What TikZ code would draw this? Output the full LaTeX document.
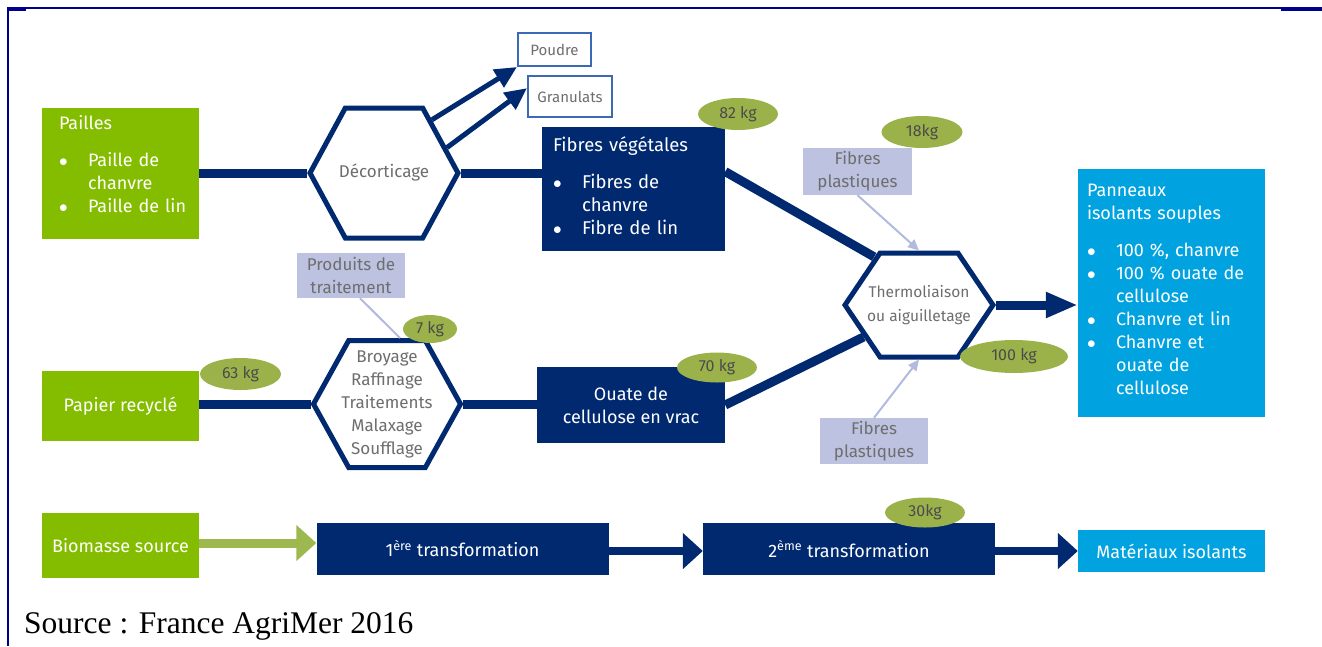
\documentclass[tikz,border=0pt]{standalone}
\usepackage{fontspec}
\setmainfont{Fira Sans}
\newfontfamily\srcfont{Liberation Serif}
\usepackage{xcolor}
\definecolor{Navy}{RGB}{0,41,112}
\definecolor{Leaf}{RGB}{132,189,0}
\definecolor{Olive}{RGB}{155,178,75}
\definecolor{OliveArrow}{RGB}{157,184,78}
\definecolor{Sky}{RGB}{0,163,224}
\definecolor{Lavender}{RGB}{188,194,224}
\definecolor{LavLine}{RGB}{178,186,222}
\definecolor{HexGray}{RGB}{110,110,110}
\definecolor{KgGray}{RGB}{75,75,75}
\definecolor{FrameBlue}{RGB}{0,0,140}
\definecolor{OutBlue}{RGB}{60,105,180}
\usetikzlibrary{positioning,arrows.meta,shapes.geometric,shapes.symbols,calc,backgrounds}
\newcommand{\hx}[1]{\makebox[0pt]{\begin{tabular}{@{}c@{}}#1\end{tabular}}}
\newcommand{\puces}[1]{\begin{tabular}[t]{@{}p{29pt}@{}l@{}}#1\end{tabular}}
\newcommand{\pt}{$\bullet$}

\begin{document}
\begin{tikzpicture}[x=1pt, y=-1pt,
    big/.style={font=\fontsize{18}{23}\selectfont},
    grn/.style={rectangle, fill=Leaf, text=white, inner sep=0pt, big},
    nv/.style={rectangle, fill=Navy, text=white, inner sep=0pt, big},
    sky/.style={rectangle, fill=Sky, text=white, inner sep=0pt, big},
    hex/.style={signal, signal to=east and west, draw=Navy, line width=5pt, fill=white,
                text=HexGray, inner sep=0pt, font=\fontsize{17}{23}\selectfont},
    kg/.style={ellipse, fill=Olive, text=KgGray, inner sep=0pt, font=\fontsize{16}{18}\selectfont},
    lav/.style={rectangle, fill=Lavender, text=HexGray, inner sep=0pt, align=center,
                font=\fontsize{17}{23}\selectfont},
    sortie/.style={rectangle, draw=OutBlue, line width=2pt, fill=white, text=HexGray,
                inner sep=0pt, font=\fontsize{15}{18}\selectfont},
    flow/.style={draw=Navy, line width=9pt},
    a/.style={-{Triangle[length=22pt,width=20pt]}, draw=Navy, line width=5pt},
    la/.style={-{Triangle[length=11pt,width=10pt]}, draw=LavLine, line width=2pt},
    ba/.style={-{Triangle[length=20pt,width=35pt]}, line width=9pt}
]
\useasboundingbox (0,0) rectangle (1322,646);
% cadre
\draw[FrameBlue, line width=1.5pt] (8,646) -- (8,8) -- (1322,8);
\draw[FrameBlue, line width=3pt] (8,9) -- (26,9) (1281,9) -- (1322,9);

% filiere chanvre / lin
\node[grn, minimum width=157pt, minimum height=131pt, text width=123pt, align=left] (pai) at (120.5,173.5)
    {Pailles\\[14pt]\puces{\pt & Paille de\\ & chanvre\\ \pt & Paille de lin\rule[-19pt]{0pt}{1pt}}};
\node[hex, minimum width=148pt, minimum height=130pt, signal pointer angle=123] (dec) at (384,173) {\hx{Décorticage}};
\node[nv, minimum width=183pt, minimum height=124pt, text width=161pt, align=left,
      font=\fontsize{18.5}{23}\selectfont] (fib) at (633.5,189)
    {Fibres végétales\\[14pt]\puces{\pt & Fibres de\\ & chanvre\\ \pt & Fibre de lin}};
\node[sortie, minimum width=73pt, minimum height=33pt] (pou) at (554.5,49.5) {Poudre};
\node[sortie, minimum width=84pt, minimum height=41pt] (gra) at (570,96.5) {Granulats};

% filiere ouate
\node[grn, minimum width=157pt, minimum height=70pt] (pap) at (120.5,406) {Papier recyclé};
\node[hex, minimum width=147pt, minimum height=127pt, signal pointer angle=122] (bro) at (387,404)
    {\hx{Broyage\\Raffinage\\Traitements\\Malaxage\\Soufflage}};
\node[nv, minimum width=188pt, minimum height=76pt, align=center] (oua) at (631,405) {Ouate de\\cellulose en vrac};
\node[lav, minimum width=108pt, minimum height=45pt] (prd) at (351,275.5) {Produits de\\traitement};

% panneaux
\node[hex, minimum width=148pt, minimum height=104pt, signal pointer angle=112,
      font=\fontsize{15.5}{24}\selectfont] (th) at (919,305) {\hx{Thermoliaison\\ou aiguilletage}};
\node[lav, minimum width=109pt, minimum height=47pt] (fpa) at (857.5,171.5) {Fibres\\plastiques};
\node[lav, minimum width=108pt, minimum height=46pt] (fpb) at (874,441) {Fibres\\plastiques};
\node[sky, minimum width=187pt, minimum height=248pt, text width=169pt, align=left] (pan) at (1171.5,293)
    {Panneaux\\isolants souples\\[14pt]\puces{\pt & 100 \%, chanvre\\ \pt & 100 \% ouate de\\ & cellulose\\
     \pt & Chanvre et lin\\ \pt & Chanvre et\\ & ouate de\\ & cellulose}};

% legende du bas
\node[grn, minimum width=157pt, minimum height=65pt] (bio) at (120.5,545.5) {Biomasse source};
\node[nv, minimum width=292pt, minimum height=52pt] (tr1) at (462.5,548.5) {1\textsuperscript{ère} transformation};
\node[nv, minimum width=292pt, minimum height=52pt] (tr2) at (849,549) {2\textsuperscript{ème} transformation};
\node[sky, minimum width=187pt, minimum height=42pt] (mat) at (1171.5,551) {Matériaux isolants};

% masses
\node[kg, minimum width=80pt, minimum height=32pt] (k82) at (738,114) {82 kg};
\node[kg, minimum width=81pt, minimum height=32pt] (k18) at (922,132) {18kg};
\node[kg, minimum width=108pt, minimum height=33pt] (k100) at (1014,356.5) {100 kg};
\node[kg, minimum width=80pt, minimum height=30pt] (k70) at (717,367.5) {70 kg};
\node[kg, minimum width=54pt, minimum height=28pt] (k7) at (430,329) {7 kg};
\node[kg, minimum width=81pt, minimum height=32pt] (k63) at (240.5,374) {63 kg};
\node[kg, minimum width=80pt, minimum height=30pt] (k30) at (925,512.5) {30kg};

\node[anchor=base west, inner sep=0pt, font=\srcfont\fontsize{31.5}{36}\selectfont] (src) at (24,633)
    {Source : France AgriMer 2016};

% liaisons
\begin{scope}[on background layer]
\draw[flow] (dec.west -| pai.east) -- (dec.west);
\draw[flow] (dec.east) -- (dec.east -| fib.west);
\draw[flow] ($(fib.north east)!0.36!(fib.south east)$) -- (th.133);
\draw[flow] (bro.west -| pap.east) -- (bro.west);
\draw[flow] (bro.east) -- (bro.east -| oua.west);
\draw[flow] (oua.east) -- (th.210);
\draw[flow, -{Triangle[length=32pt,width=24pt]}] (th.east) -- (th.east -| pan.west);
\end{scope}
\draw[a] (dec.48) -- (pou.south west);
\draw[a] (dec.22) -- (gra.169);
\draw[la] (fpa.south) -- (th.north);
\draw[la] (fpb.north) -- (th.south);
\draw[LavLine, line width=2pt] ([xshift=9pt]prd.south) -- ([xshift=13pt]bro.north);
\draw[ba, OliveArrow] ([yshift=2.5pt]bio.east) -- ([yshift=2.5pt]bio.east -| tr1.west);
\draw[ba, Navy, line width=8pt] ([yshift=-2.5pt]tr1.east) -- ([yshift=-2.5pt]tr1.east -| tr2.west);
\draw[ba, Navy, line width=8pt] ([yshift=-2pt]tr2.east) -- ([yshift=-2pt]tr2.east -| mat.west);
\end{tikzpicture}
\end{document}
